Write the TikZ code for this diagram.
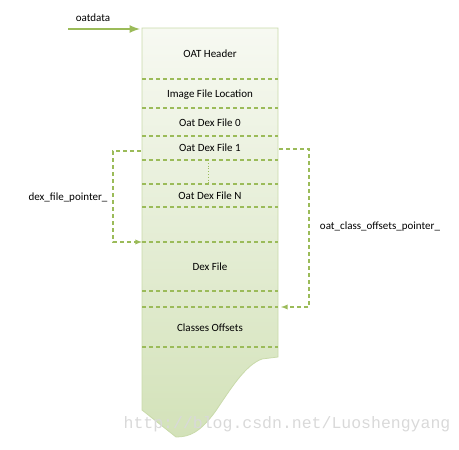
\documentclass[tikz,border=0pt]{standalone}
\usepackage{fontspec}
\setmainfont{Carlito}
\newfontfamily\wmfont{Liberation Mono}
\usetikzlibrary{calc}
\definecolor{oatgreen}{HTML}{9BBB59}
\definecolor{oatedge}{HTML}{C9DAAA}
\definecolor{oattop}{HTML}{F7F9F2}
\definecolor{oatbottom}{HTML}{D3E2B9}
\tikzset{
  seg/.style={draw=oatgreen, line width=1.3pt, dash pattern=on 4pt off 3pt},
  ptr/.style={draw=oatgreen, line width=1.3pt, dash pattern=on 4pt off 3pt, -latex},
  lbl/.style={font=\fontsize{11}{13}\selectfont, text=black},
}

\begin{document}
\begin{tikzpicture}[x=1pt,y=-1pt]
\useasboundingbox (0,0) rectangle (459,450);
% Bloco do arquivo OAT
\shadedraw[top color=oattop, bottom color=oatbottom, draw=oatedge, line width=0.8pt]
  (142,28) -- (278,28) -- (278,357) -- (262,359)
  .. controls (245,365) and (230,390) .. (215,412)
  .. controls (200,432) and (190,437) .. (176,437) -- (142,410) -- cycle;
% Divisoes
\foreach \y in {79,108,136,160,184,207,242,291,307,347}
  \draw[seg] (142,\y) -- (278,\y);
\draw[oatgreen, dotted, line width=0.8pt] (208,160) -- (208,184);
% Secoes
\node[lbl] (hdr) at (210,54) {OAT Header};
\node[lbl] (img) at (210,95) {Image File Location};
\node[lbl] (odf0) at (210,123) {Oat Dex File 0};
\node[lbl] (odf1) at (210,148) {Oat Dex File 1};
\node[lbl] (odfn) at (210,196) {Oat Dex File N};
\node[lbl] (dex) at (210,267) {Dex File};
\node[lbl] (cls) at (210,328) {Classes Offsets};
% oatdata
\coordinate (oatstart) at (68,29);
\coordinate (oatend) at (140,29);
\draw[oatgreen, line width=2.5pt, -latex] (oatstart) -- (oatend);
\node[lbl] (oatlbl) at (93,18) {oatdata};
% Ponteiros
\coordinate (dexfrom) at (141,151);
\coordinate (dexto) at (142,242);
\draw[ptr] (dexfrom) -- ++(-28,0) |- (dexto);
\node[lbl] (dexlbl) at (68,198) {dex\_file\_pointer\_};
\coordinate (clsfrom) at (279,149);
\coordinate (clsto) at (281,307);
\draw[ptr] (clsfrom) -- ++(30,0) |- (clsto);
\node[lbl] (clslbl) at (380,227) {oat\_class\_offsets\_pointer\_};
% Marca d'agua
\node[font=\wmfont\fontsize{16.5}{18}\selectfont, text=black!15] (wm) at (287,424) {http://blog.csdn.net/Luoshengyang};
\end{tikzpicture}
\end{document}
